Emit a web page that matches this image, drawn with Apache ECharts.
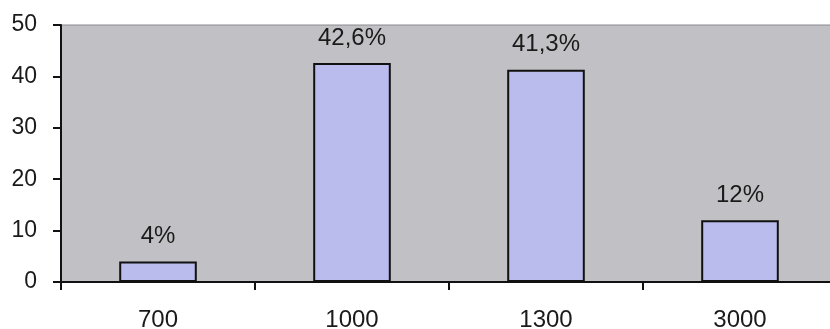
<!DOCTYPE html>
<html>
<head>
<meta charset="utf-8">
<script src="https://cdn.jsdelivr.net/npm/echarts@6/dist/echarts.min.js"></script>
<style>
  html, body { margin: 0; padding: 0; background: #ffffff; }
  #chart { width: 830px; height: 329px; }
</style>
</head>
<body>
<div id="chart"></div>
<script>
// Categories along the x axis and the share (percent) for each one
const categories = ['700', '1000', '1300', '3000'];
const shares = [4, 42.6, 41.3, 12];
const yTicks = { min: 0, max: 50, interval: 10 };

const chart = echarts.init(document.getElementById('chart'), null, { renderer: 'canvas' });

const font = 'Liberation Sans, Arial, sans-serif';
const ink = '#1a1a1a';

chart.setOption({
  animation: false,
  backgroundColor: '#ffffff',
  grid: {
    left: 61,
    top: 25,
    width: 776,
    height: 257,
    outerBoundsMode: 'none',
    containLabel: false,
    show: true,
    backgroundColor: '#c1c1c5',
    borderColor: '#8a8a8e',
    borderWidth: 1
  },
  xAxis: {
    type: 'category',
    data: categories,
    boundaryGap: true,
    axisLine: { show: true, lineStyle: { color: '#111', width: 2 } },
    axisTick: { show: true, length: 8, lineStyle: { color: '#111', width: 2 } },
    axisLabel: { margin: 26, fontSize: 24, fontFamily: font, color: ink },
    splitLine: { show: false }
  },
  yAxis: {
    type: 'value',
    min: yTicks.min,
    max: yTicks.max,
    interval: yTicks.interval,
    axisLine: { show: true, lineStyle: { color: '#111', width: 2 } },
    axisTick: { show: true, length: 8, lineStyle: { color: '#111', width: 2 } },
    axisLabel: { margin: 24, fontSize: 23, fontFamily: font, color: ink },
    splitLine: { show: false }
  },
  series: [{
    type: 'bar',
    data: shares,
    barWidth: '40%',
    itemStyle: { color: '#b9bcec', borderColor: '#111', borderWidth: 2 },
    label: {
      show: true,
      position: 'top',
      distance: 13,
      fontSize: 24,
      fontFamily: font,
      color: ink,
      formatter: p => String(p.value).replace('.', ',') + '%'
    }
  }]
});
</script>
</body>
</html>
